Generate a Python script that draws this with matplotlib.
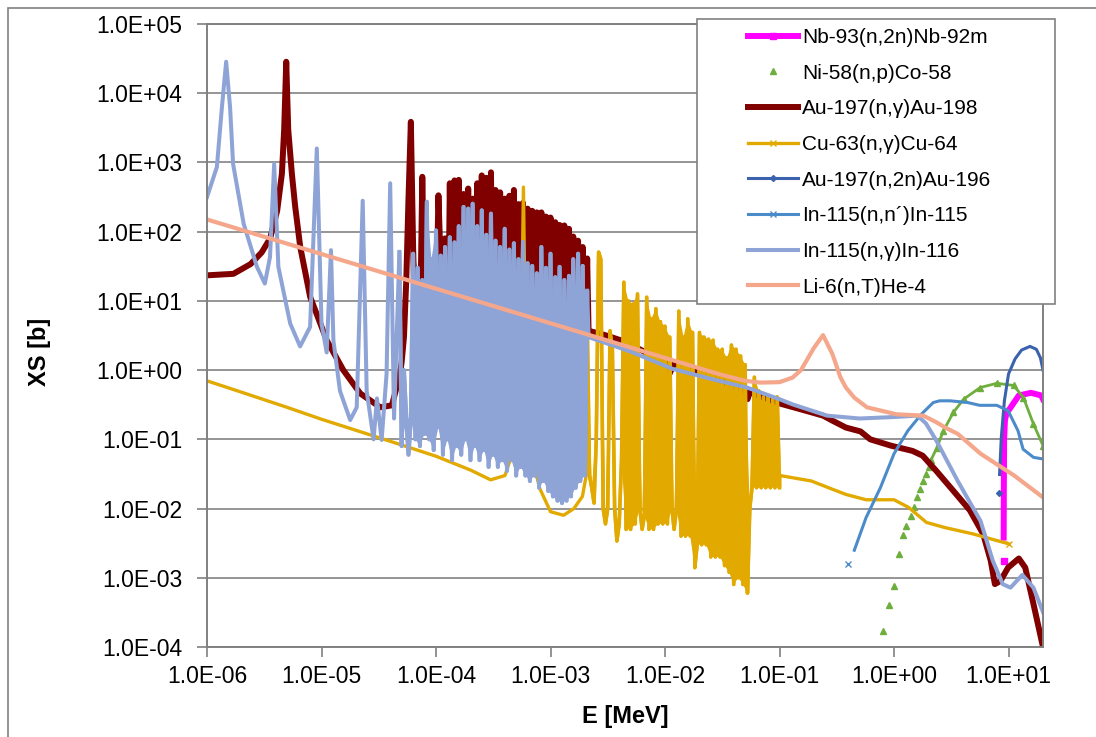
import numpy as np
import matplotlib
matplotlib.use("Agg")
import matplotlib.pyplot as plt
from matplotlib.patches import Rectangle
from matplotlib.ticker import FixedLocator, FuncFormatter, NullLocator

plt.rcParams['font.family'] = ['Liberation Sans', 'DejaVu Sans']
plt.rcParams['path.simplify'] = False  # keep every resonance spike

nan = np.nan

# common energy grid for the In/Au resonance forest [MeV]
forest_E = [4.79e-5, 5.01e-5, 5.25e-5, 5.50e-5, 5.75e-5, 6.03e-5, 6.31e-5, 6.61e-5, 6.92e-5, 7.24e-5,
            7.59e-5, 7.94e-5, 8.32e-5, 8.71e-5, 9.12e-5, 9.55e-5, 1.00e-4, 1.05e-4, 1.10e-4, 1.15e-4,
            1.20e-4, 1.26e-4, 1.32e-4, 1.38e-4, 1.45e-4, 1.51e-4, 1.58e-4, 1.66e-4, 1.74e-4, 1.82e-4,
            1.91e-4, 2.00e-4, 2.09e-4, 2.19e-4, 2.29e-4, 2.40e-4, 2.51e-4, 2.63e-4, 2.75e-4, 2.88e-4,
            3.02e-4, 3.16e-4, 3.31e-4, 3.47e-4, 3.63e-4, 3.80e-4, 3.98e-4, 4.17e-4, 4.37e-4, 4.57e-4,
            4.79e-4, 5.01e-4, 5.25e-4, 5.50e-4, 5.75e-4, 6.03e-4, 6.31e-4, 6.61e-4, 6.92e-4, 7.24e-4,
            7.59e-4, 7.94e-4, 8.32e-4, 8.71e-4, 9.12e-4, 9.55e-4, 1.00e-3, 1.05e-3, 1.10e-3, 1.15e-3,
            1.20e-3, 1.26e-3, 1.32e-3, 1.38e-3, 1.45e-3, 1.51e-3, 1.58e-3, 1.66e-3, 1.74e-3, 1.82e-3,
            1.91e-3, 2.00e-3, 2.09e-3]

# Nb-93(n,2n)Nb-92m
nb_E = [9.05, 9.06, 9.07, 9.1, 9.15, 9.3, 9.6, 10.3, 12.3, 15.7, 19.3, 20.0]
nb_xs = [0.00175, nan, 0.0038, 0.02, 0.1, 0.186, 0.24, 0.28, 0.43, 0.47, 0.43, 0.38]

# Ni-58(n,p)Co-58
ni_E = [0.80, 0.90, 1.0, 1.1, 1.2, 1.28, 1.4, 1.49, 1.6, 1.69, 1.8, 1.9, 2.03, 2.1,
        2.37, 2.7, 3.3, 4.05, 5.66, 7.9, 11.1, 13.5, 16.5, 20.0]
ni_xs = [1.7e-4, 4.1e-4, 7.6e-4, 2.2e-3, 4.1e-3, 5.6e-3, 7.9e-3, 0.0107, 0.0145, 0.019, 0.025, 0.032,
         0.040, 0.050, 0.076, 0.133, 0.245, 0.38, 0.56, 0.645, 0.60, 0.40, 0.167, 0.081]

# Au-197(n,g)Au-198
au_low_E = [1e-6, 1.7e-6, 2.4e-6, 3.0e-6, 3.56e-6, 4.1e-6, 4.51e-6, 4.72e-6, 4.92e-6, 5.12e-6,
            5.51e-6, 5.89e-6, 6.52e-6, 7.96e-6, 1.11e-5, 1.55e-5, 2.18e-5, 3.26e-5, 4.12e-5]
au_low_xs = [23.4, 24.6, 34, 50, 80, 200, 690, 3000, 2.85e4, 3000,
             690, 230, 60, 11.4, 2.7, 1.0, 0.46, 0.29, 0.31]
au_forest_xs = [0.8, 1.3, 3, 20, 300, 3860, 60, 3, 1.2, 3,
                620, 10, 0.5, 0.4, 1.5, 0.4, 5, 335, 30, 0.5,
                80, 0.4, 500, 0.5, 550, 0.4, 560, 0.5, 350, 0.4,
                420, 0.4, 300, 0.5, 500, 0.4, 650, 0.5, 600, 0.4,
                720, 0.4, 400, 0.5, 370, 0.4, 300, 0.4, 330, 0.4,
                400, 0.4, 250, 0.5, 260, 0.4, 215, 0.5, 200, 0.4,
                190, 0.5, 190, 0.5, 165, 0.5, 160, 0.5, 137, 0.5,
                125, 0.6, 123, 0.6, 110, 0.8, 85, 0.8, 74, 1.0,
                60, 1.2, 41]
au_high_E = [2.15e-3, 3e-3, 4.1e-3, 6e-3, 1e-2, 1.1e-2, 1.2e-2, 2.5e-2, 5.0e-2, 5.25e-2, 5.5e-2,
             0.1, 0.155, 0.24, 0.29, 0.38, 0.51, 0.62, 0.94, 1.45, 1.78, 2.34, 3.3, 4.6, 6.0,
             7.0, 7.6, 8.5, 9.9, 12.3, 14.0, 16.5, 20.0]
au_high_xs = [3.7, 3.2, 2.7, 2.0, 1.3, 0.9, 1.25, 0.8, 0.5, 0.38, 0.48,
              0.33, 0.27, 0.22, 0.186, 0.148, 0.13, 0.10, 0.081, 0.068, 0.058, 0.035, 0.018, 0.0094, 0.0043,
              0.00175, 0.00081, 0.0009, 0.0014, 0.0019, 0.0014, 0.00042, 0.0001]

# Cu-63(n,g)Cu-64
cu_low_E = [1e-6, 2e-6, 5e-6, 1e-5, 2e-5, 5e-5, 1e-4, 2e-4, 3e-4, 4e-4, 4.6e-4, 5.2e-4,
            5.6e-4, 5.8e-4, 6.0e-4, 6.5e-4, 8e-4, 1e-3, 1.3e-3, 1.6e-3, 1.9e-3, 2.05e-3]
cu_low_xs = [0.70, 0.48, 0.29, 0.195, 0.135, 0.083, 0.057, 0.036, 0.026, 0.03, 0.06, 0.3,
             5, 440, 5, 0.1, 0.02, 0.009, 0.008, 0.01, 0.015, 0.03]
cu_res_E = [2.09e-3, 2.19e-3, 2.29e-3, 2.40e-3, 2.51e-3, 2.63e-3, 2.75e-3, 2.88e-3, 3.02e-3, 3.16e-3,
            3.31e-3, 3.47e-3, 3.63e-3, 3.80e-3, 3.98e-3, 4.17e-3, 4.37e-3, 4.57e-3, 4.79e-3, 5.01e-3,
            5.25e-3, 5.50e-3, 5.75e-3, 6.03e-3, 6.31e-3, 6.61e-3, 6.92e-3, 7.24e-3, 7.59e-3, 7.94e-3,
            8.32e-3, 8.71e-3, 9.12e-3, 9.55e-3, 1.00e-2, 1.05e-2, 1.10e-2, 1.15e-2, 1.20e-2, 1.26e-2,
            1.32e-2, 1.38e-2, 1.45e-2, 1.51e-2, 1.58e-2, 1.66e-2, 1.74e-2, 1.82e-2, 1.91e-2, 2.00e-2,
            2.09e-2, 2.19e-2, 2.29e-2, 2.40e-2, 2.51e-2, 2.63e-2, 2.75e-2, 2.88e-2, 3.02e-2, 3.16e-2,
            3.31e-2, 3.47e-2, 3.63e-2, 3.80e-2, 3.98e-2, 4.17e-2, 4.37e-2, 4.57e-2, 4.79e-2, 5.01e-2,
            5.25e-2, 5.50e-2, 5.75e-2, 6.03e-2, 6.31e-2, 6.61e-2, 6.92e-2, 7.24e-2, 7.59e-2, 7.94e-2,
            8.32e-2, 8.71e-2, 9.12e-2, 9.55e-2, 0.1]
cu_res_xs = [5.8, 0.03, 0.02, 0.012, 0.1, 50.7, 40, 0.01, 0.006, 0.01,
             3.7, 2.0, 0.01, 0.0034, 0.006, 0.05, 18.6, 0.005, 10, 0.005,
             9, 0.006, 12.6, 0.01, 0.005, 0.008, 11.3, 0.005, 5.5, 0.005,
             7.7, 0.006, 5.0, 0.006, 4.3, 0.006, 3.0, 0.01, 0.005, 0.01,
             7.1, 0.004, 3.0, 0.004, 5.5, 0.004, 3.5, 0.0014, 0.003, 3.5,
             0.003, 3.0, 0.003, 2.8, 0.002, 2.7, 0.002, 2.0, 0.002, 2.0,
             0.0015, 1.5, 0.0012, 2.3, 0.0008, 2.0, 0.001, 1.6, 0.0008, 1.2,
             0.0006, 0.01, 0.02, 0.79, 0.02, 0.5, 0.02, 0.41, 0.02, 0.41,
             0.02, 0.4, 0.02, 0.41, 0.02]
cu_high_E = [0.101, 0.19, 0.29, 0.38, 0.57, 1.0, 1.34, 1.92, 2.8, 4.9, 7.2, 10.0]
cu_high_xs = [0.030, 0.025, 0.019, 0.016, 0.0134, 0.0134, 0.0104, 0.0063, 0.0053, 0.0043, 0.0036, 0.0031]

# Au-197(n,2n)Au-196
au2n_E = [8.3, 8.32, 8.35, 8.65, 9.2, 10.0, 11.4, 13.0, 15.4, 17.5, 19.0, 20.0]
au2n_xs = [0.0166, nan, 0.031, 0.107, 0.36, 0.88, 1.45, 1.95, 2.2, 2.0, 1.5, 1.0]

# In-115(n,n')In-115
inn_E = [0.40, 0.42, 0.45, 0.57, 0.76, 1.0, 1.32, 1.73, 2.2, 2.5, 3.1, 4.4, 5.6, 7.9,
         9.9, 12.1, 13.4, 16.5, 20.0]
inn_xs = [0.0016, nan, 0.0025, 0.0074, 0.020, 0.062, 0.133, 0.23, 0.34, 0.36, 0.36, 0.34, 0.31, 0.31,
          0.26, 0.133, 0.072, 0.055, 0.052]

# In-115(n,g)In-116
ing_low_E = [1e-6, 1.22e-6, 1.35e-6, 1.47e-6, 1.59e-6, 1.69e-6, 2.09e-6, 2.73e-6, 3.2e-6, 3.55e-6,
             3.86e-6, 4.2e-6, 5.33e-6, 6.5e-6, 7.95e-6, 9.1e-6, 1.0e-5, 1.11e-5, 1.21e-5, 1.27e-5,
             1.45e-5, 1.78e-5, 2.03e-5, 2.29e-5, 2.48e-5, 2.85e-5, 3.05e-5, 3.35e-5, 3.7e-5, 3.98e-5,
             4.3e-5]
ing_low_xs = [316, 860, 6300, 2.85e4, 6300, 950, 130, 31, 17.8, 43,
              950, 31, 4.7, 2.2, 4.2, 1590, 4.7, 1.8, 54, 2.7,
              0.5, 0.19, 0.29, 280, 0.5, 0.10, 0.39, 0.098, 0.88, 500,
              0.2]
ing_forest_xs = [51, 0.08, 1.0, 0.2, 0.06, 0.2, 48, 0.1, 30, 0.08,
                 20, 0.12, 270, 0.1, 40, 0.07, 104, 0.15, 45, 0.06,
                 60, 0.1, 83, 0.05, 70, 0.08, 120, 0.06, 228, 0.1,
                 215, 0.05, 253, 0.08, 120, 0.05, 203, 0.07, 90, 0.04,
                 182, 0.06, 74, 0.04, 60, 0.05, 110, 0.035, 55, 0.05,
                 68, 0.03, 40, 0.04, 71, 0.03, 35, 0.025, 32, 0.03,
                 25, 0.02, 60, 0.025, 30, 0.018, 48, 0.015, 22, 0.013,
                 31, 0.012, 20, 0.013, 23, 0.015, 40, 0.02, 48, 0.025,
                 32, 0.03, 14]
ing_high_E = [2.15e-3, 5e-3, 1.17e-2, 2.5e-2, 5.2e-2, 0.1, 0.13, 0.26, 0.5, 1.0, 1.6, 1.9, 2.35,
              3.6, 5.7, 7.3, 8.9, 10.4, 13.2, 16.5, 20.0]
ing_high_xs = [3.0, 1.85, 1.04, 0.75, 0.56, 0.38, 0.32, 0.22, 0.20, 0.21, 0.22, 0.17, 0.095,
               0.025, 0.0066, 0.00175, 0.00081, 0.00072, 0.0011, 0.00072, 0.00032]

# Li-6(n,T)He-4
li_E = [1e-6, 1e-5, 1e-4, 1e-3, 1e-2, 0.03, 0.05, 0.068, 0.1, 0.13, 0.154, 0.2, 0.24, 0.29,
        0.34, 0.38, 0.45, 0.58, 1.05, 1.8, 2.35, 2.8, 3.6, 5.7, 11.2, 20.0]
li_xs = [150, 47.5, 15, 4.75, 1.5, 0.87, 0.70, 0.66, 0.67, 0.78, 1.0, 2.1, 3.2, 1.7,
         0.79, 0.56, 0.40, 0.29, 0.23, 0.22, 0.176, 0.148, 0.12, 0.062, 0.030, 0.0145]

x_ticks = [1e-6, 1e-5, 1e-4, 1e-3, 1e-2, 1e-1, 1e0, 1e1]
y_ticks = [1e-4, 1e-3, 1e-2, 1e-1, 1e0, 1e1, 1e2, 1e3, 1e4, 1e5]


def forest(ax, E, xs, color, lw):
    # dense resonances: the zigzag, plus the band between its peak and valley points
    ax.plot(E, xs, color=color, lw=lw)
    ax.fill(E[0::2] + E[-2::-2], xs[0::2] + xs[-2::-2], color=color, lw=0)


fig = plt.figure(figsize=(10.96, 7.37), dpi=100)
ax = fig.add_axes([207 / 1096, 1 - 647 / 737, 836 / 1096, 623 / 737])
ax.set_xscale('log')
ax.set_yscale('log')

h = []
h += ax.plot(nb_E, nb_xs, color='#FF00FF', lw=4.3, marker='s', ms=4, markevery=[0],
             label='Nb-93(n,2n)Nb-92m')
ax.plot(ni_E[13:], ni_xs[13:], color='#6DAE3C', lw=2.0)
h += ax.plot(ni_E, ni_xs, ls='none', marker='^', ms=5, color='#6DAE3C', mec='#6DAE3C',
             label='Ni-58(n,p)Co-58')
h += ax.plot(au_low_E + forest_E + au_high_E, au_low_xs + au_forest_xs + au_high_xs,
             color='#800000', lw=4.3, label='Au-197(n,\u03b3)Au-198')
h += ax.plot(cu_low_E + cu_res_E + cu_high_E, cu_low_xs + cu_res_xs + cu_high_xs,
             color='#E2AA00', lw=2.4, marker='x', ms=4, markevery=[-1], label='Cu-63(n,\u03b3)Cu-64')
forest(ax, cu_res_E, cu_res_xs, '#E2AA00', 2.6)
h += ax.plot(au2n_E, au2n_xs, color='#3A62AD', lw=2.2, marker='D', ms=3, markevery=[0],
             label='Au-197(n,2n)Au-196')
h += ax.plot(inn_E, inn_xs, color='#4C8BC9', lw=2.2, marker='x', ms=4, markevery=[0],
             label='In-115(n,n\u00b4)In-115')
h += ax.plot(ing_low_E + forest_E + ing_high_E, ing_low_xs + ing_forest_xs + ing_high_xs,
             color='#8FA4D6', lw=2.9, label='In-115(n,\u03b3)In-116')
forest(ax, forest_E, ing_forest_xs, '#8FA4D6', 2.9)
h += ax.plot(li_E, li_xs, color='#F5A78C', lw=3.0, label='Li-6(n,T)He-4')

ax.set_xlim(1e-6, 20)
ax.set_ylim(1e-4, 1e5)
ax.xaxis.set_major_locator(FixedLocator(x_ticks))
ax.yaxis.set_major_locator(FixedLocator(y_ticks))
ax.xaxis.set_minor_locator(NullLocator())
ax.yaxis.set_minor_locator(NullLocator())
fmt = FuncFormatter(lambda v, p: f"{v:.1E}")
ax.xaxis.set_major_formatter(fmt)
ax.yaxis.set_major_formatter(fmt)
ax.tick_params(axis='both', direction='out', length=7, width=1.2, color='#808080',
               labelsize=16.5, labelcolor='black')
ax.tick_params(axis='y', pad=11)
ax.tick_params(axis='x', pad=6)
ax.yaxis.grid(True, color='#8c8c8c', lw=1.3)
ax.set_axisbelow(True)
for s in ax.spines.values():
    s.set_color('#808080')
    s.set_linewidth(1.4)

ax.set_xlabel('E [MeV]', fontsize=17, fontweight='bold')
ax.xaxis.set_label_coords(0.5, -0.093)
ax.set_ylabel('XS [b]', fontsize=17, fontweight='bold')
ax.yaxis.set_label_coords(-0.187, 0.4735)

# chart frame and legend box
fig.add_artist(Rectangle((8 / 1096, -0.1), 1.2, 1.1 - 8 / 737, transform=fig.transFigure,
                         fill=False, ec='#808080', lw=1.2))
fig.add_artist(Rectangle((697 / 1096, 1 - 304 / 737), 358 / 1096, 285 / 737,
                         transform=fig.transFigure, fc='white', ec='#808080', lw=1.2, zorder=3))
labels = [l.get_label() for l in h]
fig.legend(h, labels, loc='upper left', bbox_to_anchor=(748 / 1096, 1 - 28 / 737),
           frameon=False, borderpad=0, borderaxespad=0, handlelength=2.4, handletextpad=0.2,
           labelspacing=0.8, fontsize=15)

fig.savefig('out.png', dpi=100)
